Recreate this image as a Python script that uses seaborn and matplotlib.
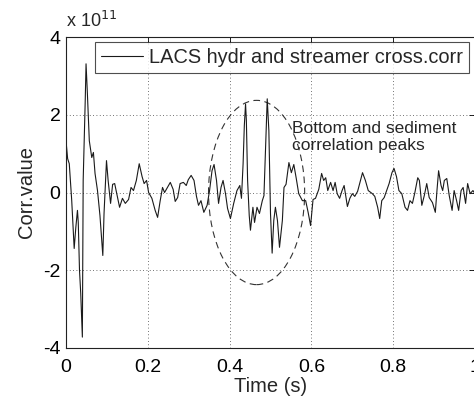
import matplotlib
matplotlib.use("Agg")
import matplotlib.pyplot as plt
from matplotlib.patches import Ellipse
import numpy as np
import pandas as pd
import seaborn as sns

# ---- data (time in s, correlation value in units of 1e11) ----
time_s = [0.000, 0.004, 0.008, 0.014, 0.020, 0.024, 0.028, 0.030, 0.033, 0.036,
          0.040, 0.042, 0.047, 0.049, 0.052, 0.057, 0.063, 0.067, 0.071, 0.077,
          0.083, 0.090, 0.093, 0.099, 0.103, 0.109, 0.114, 0.119, 0.124, 0.131,
          0.138, 0.145, 0.153, 0.159, 0.165, 0.172, 0.179, 0.186, 0.191, 0.197,
          0.202, 0.210, 0.218, 0.224, 0.230, 0.236, 0.241, 0.248, 0.255, 0.262,
          0.267, 0.273, 0.279, 0.287, 0.294, 0.299, 0.306, 0.313, 0.319, 0.324,
          0.330, 0.337, 0.345, 0.351, 0.357, 0.362, 0.368, 0.373, 0.379, 0.384,
          0.390, 0.395, 0.402, 0.410, 0.418, 0.425, 0.429, 0.433, 0.436, 0.439,
          0.441, 0.444, 0.448, 0.451, 0.457, 0.461, 0.467, 0.473, 0.480, 0.484,
          0.488, 0.492, 0.496, 0.500, 0.504, 0.508, 0.512, 0.517, 0.522, 0.529,
          0.533, 0.538, 0.545, 0.551, 0.557, 0.563, 0.569, 0.578, 0.586, 0.592,
          0.598, 0.604, 0.610, 0.618, 0.625, 0.630, 0.635, 0.640, 0.647, 0.653,
          0.658, 0.663, 0.669, 0.675, 0.680, 0.688, 0.694, 0.700, 0.706, 0.713,
          0.718, 0.725, 0.732, 0.739, 0.749, 0.755, 0.762, 0.767, 0.772, 0.778,
          0.784, 0.790, 0.797, 0.802, 0.808, 0.814, 0.821, 0.829, 0.835, 0.841,
          0.847, 0.853, 0.860, 0.864, 0.870, 0.876, 0.882, 0.888, 0.896, 0.903,
          0.907, 0.911, 0.917, 0.921, 0.925, 0.931, 0.937, 0.944, 0.949, 0.955,
          0.960, 0.966, 0.971, 0.977, 0.982, 0.988, 0.995, 1.000]
corr_value = [1.33, 0.87, 0.74, -0.21, -1.44, -0.90, -0.46, -0.77, -2.00, -2.59,
              -3.72, 0.31, 2.36, 3.31, 2.62, 1.33, 0.90, 1.03, 0.49, 0.05,
              -0.59, -1.62, -0.54, 0.82, 0.31, -0.28, 0.21, 0.23, -0.03, -0.38,
              -0.15, -0.28, -0.18, 0.13, 0.05, 0.31, 0.74, 0.41, 0.23, 0.31,
              0.00, -0.15, -0.46, -0.64, -0.23, 0.13, 0.00, 0.13, 0.26, 0.08,
              -0.23, -0.13, 0.23, 0.26, 0.18, 0.33, 0.44, 0.31, -0.10, -0.33,
              -0.21, -0.51, -0.33, 0.05, 0.56, 0.72, 0.31, -0.28, 0.13, 0.31,
              -0.03, -0.41, -0.67, -0.28, 0.05, 0.18, -0.15, 0.74, 1.72, 2.28,
              1.85, 0.31, -0.59, -0.97, -0.38, -0.77, -0.38, -0.54, -0.21, -0.08,
              1.15, 2.41, 1.59, -0.54, -1.56, -0.72, -0.38, -0.72, -1.41, -0.72,
              0.13, 0.21, 0.77, 0.51, 0.72, 0.36, -0.03, -0.21, -0.21, -0.51,
              -0.85, -0.18, -0.15, 0.08, 0.49, 0.31, 0.38, 0.05, 0.26, 0.05,
              0.26, -0.03, -0.15, 0.05, 0.18, -0.36, -0.15, -0.03, -0.10, 0.03,
              0.23, 0.51, 0.31, 0.05, -0.03, -0.10, -0.38, -0.67, -0.21, -0.13,
              0.05, 0.23, 0.51, 0.62, 0.41, 0.05, -0.03, -0.38, -0.46, -0.21,
              -0.28, 0.00, 0.38, 0.31, -0.33, -0.08, 0.23, -0.13, -0.26, -0.51,
              0.05, 0.56, 0.18, 0.05, 0.31, 0.36, -0.08, -0.46, 0.05, -0.21,
              -0.46, 0.05, 0.13, -0.28, 0.23, -0.03, 0.05, -0.03]

series_label = "LACS hydr and streamer cross.corr"
x_ticks = [0, 0.2, 0.4, 0.6, 0.8, 1]
x_tick_labels = ["0", "0.2", "0.4", "0.6", "0.8", "1"]
y_ticks = [-4, -2, 0, 2, 4]
y_tick_labels = ["-4", "-2", "0", "2", "4"]
annotation_text = "Bottom and sediment\ncorrelation peaks"
ellipse_center = (0.466, 0.0)
ellipse_size = (0.235, 4.74)

sns.set_style("white")
plt.rcParams["font.family"] = ["Liberation Sans", "DejaVu Sans"]

df = pd.DataFrame({"Time (s)": time_s, "Corr.value": corr_value})

fig = plt.figure(figsize=(4.74, 3.99), dpi=100)
ax = fig.add_axes([66 / 474, 51 / 399, 409 / 474, 311 / 399])

sns.lineplot(data=df, x="Time (s)", y="Corr.value", ax=ax, sort=False,
             estimator=None, color="#1a1a1a", linewidth=0.8, label=series_label)

ax.add_patch(Ellipse(ellipse_center, ellipse_size[0], ellipse_size[1],
                     fill=False, linestyle=(0, (6, 4)), edgecolor="#333333",
                     linewidth=0.8))

ax.set_xlim(0, 1)
ax.set_ylim(-4, 4)
ax.set_xticks(x_ticks)
ax.set_xticklabels(x_tick_labels)
ax.set_yticks(y_ticks)
ax.set_yticklabels(y_tick_labels)
ax.grid(True, linestyle=(0, (1, 3)), color="#444444", linewidth=0.6)
ax.tick_params(direction="in", length=4, width=0.6, labelsize=14,
               top=True, right=True, colors="#000000")
ax.tick_params(axis="x", pad=8)
ax.tick_params(axis="y", pad=4)
for s in ax.spines.values():
    s.set_color("#222222")
    s.set_linewidth(0.8)

ax.set_xlabel("Time (s)", fontsize=14.5, labelpad=1)
ax.set_ylabel("Corr.value", fontsize=14.5, labelpad=5)

ax.text(0.0, 1.02, r"x 10$^{11}$", transform=ax.transAxes, fontsize=13,
        ha="left", va="bottom")

ax.text(0.553, 1.83, annotation_text, fontsize=12.5, ha="left", va="top",
        linespacing=1.15)

leg = ax.legend(loc="upper right", bbox_to_anchor=(0.986, 0.985), frameon=True,
                fancybox=False, fontsize=14.4, handlelength=2.1, borderpad=0.3,
                handletextpad=0.3, borderaxespad=0)
leg.get_frame().set_edgecolor("#222222")
leg.get_frame().set_linewidth(0.8)

fig.savefig("out.png", dpi=100)
